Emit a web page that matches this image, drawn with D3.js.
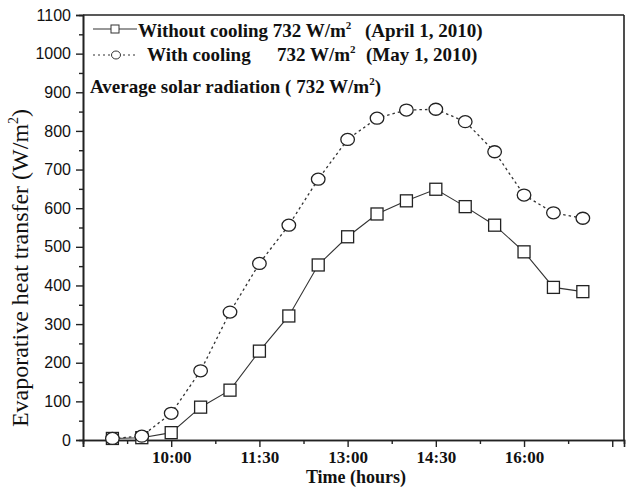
<!DOCTYPE html>
<html>
<head>
<meta charset="utf-8">
<script src="https://cdn.jsdelivr.net/npm/d3@7/dist/d3.min.js"></script>
<style>
  body { margin: 0; background: #fff; }
  svg { display: block; }
</style>
</head>
<body>
<svg id="chart" width="627" height="493"></svg>
<script>
// time in hours (9:00 .. 17:00, every 30 min)
var hours = [9, 9.5, 10, 10.5, 11, 11.5, 12, 12.5, 13, 13.5, 14, 14.5, 15, 15.5, 16, 16.5, 17]
var withoutCooling = [4, 6, 19, 85, 129, 230, 321, 453, 526, 585, 619, 649, 604, 556, 487, 395, 384]
var withCooling = [4, 10, 69, 179, 331, 457, 556, 675, 778, 833, 854, 856, 824, 746, 634, 588, 574]
var xMajor = [8.5, 10, 11.5, 13, 14.5, 16, 17.5]
var xLabeled = [10, 11.5, 13, 14.5, 16]
var yMajor = [0, 100, 200, 300, 400, 500, 600, 700, 800, 900, 1000, 1100]

var svg = d3.select("#chart")
var mLeft = 83, mRight = 624, mTop = 15, mBottom = 440
var serif = "'Liberation Serif', 'Times New Roman', serif"
var sans = "'Liberation Sans', Arial, sans-serif"

var x = d3.scaleLinear().domain([8.5, 17.7]).range([mLeft, mRight])
var y = d3.scaleLinear().domain([0, 1100]).range([mBottom, mTop])

function fmtTime(h) {
  if (xLabeled.indexOf(h) < 0) return ""
  var hh = Math.floor(h), mm = Math.round((h - hh) * 60)
  return hh + ":" + (mm < 10 ? "0" + mm : mm)
}

var xMinor = xMajor.slice(0, -1).map(function(d){ return d + 0.75 })
var yMinor = yMajor.slice(0, -1).map(function(d){ return d + 50 })

// minor ticks
svg.append("g")
  .attr("transform", "translate(0," + mBottom + ")")
  .call(d3.axisBottom(x).tickValues(xMinor).tickSize(4).tickFormat(""))
svg.append("g")
  .attr("transform", "translate(" + mLeft + ",0)")
  .call(d3.axisLeft(y).tickValues(yMinor).tickSize(4).tickFormat(""))

// major axes
var gx = svg.append("g")
  .attr("transform", "translate(0," + mBottom + ")")
  .call(d3.axisBottom(x).tickValues(xMajor).tickSize(7).tickPadding(4).tickFormat(fmtTime))
gx.selectAll("text")
  .style("font-family", serif).style("font-size", "17px").style("font-weight", "bold").attr("fill", "#111")

var gy = svg.append("g")
  .attr("transform", "translate(" + mLeft + ",0)")
  .call(d3.axisLeft(y).tickValues(yMajor).tickSize(7).tickPadding(5).tickFormat(d3.format("d")))
gy.selectAll("text")
  .style("font-family", sans).style("font-size", "16px").attr("fill", "#111")

svg.selectAll(".domain").attr("stroke", "#222").attr("stroke-width", 1.6)
svg.selectAll(".tick line").attr("stroke", "#222").attr("stroke-width", 1.4)

// frame top and right
svg.append("line").attr("x1", mLeft).attr("x2", mRight).attr("y1", mTop).attr("y2", mTop)
  .attr("stroke", "#222").attr("stroke-width", 1.6)
svg.append("line").attr("x1", mRight).attr("x2", mRight).attr("y1", mTop).attr("y2", mBottom)
  .attr("stroke", "#222").attr("stroke-width", 1.6)

// series lines
var line = d3.line().x(function(d){ return x(d[0]) }).y(function(d){ return y(d[1]) })

svg.append("path")
  .datum(hours.map(function(h, i){ return [h, withoutCooling[i]] }))
  .attr("d", line).attr("fill", "none").attr("stroke", "#333").attr("stroke-width", 1.1)

svg.append("path")
  .datum(hours.map(function(h, i){ return [h, withCooling[i]] }))
  .attr("d", line).attr("fill", "none").attr("stroke", "#333").attr("stroke-width", 1.3)
  .attr("stroke-dasharray", "2.5,3")

// markers
svg.selectAll("rect.sq")
  .data(hours.map(function(h, i){ return [h, withoutCooling[i]] }))
  .enter().append("rect")
  .attr("class", "sq")
  .attr("x", function(d){ return x(d[0]) - 6 })
  .attr("y", function(d){ return y(d[1]) - 6 })
  .attr("width", 12).attr("height", 12)
  .attr("fill", "#fff").attr("stroke", "#222").attr("stroke-width", 1.3)

svg.selectAll("ellipse.ci")
  .data(hours.map(function(h, i){ return [h, withCooling[i]] }))
  .enter().append("ellipse")
  .attr("class", "ci")
  .attr("cx", function(d){ return x(d[0]) })
  .attr("cy", function(d){ return y(d[1]) })
  .attr("rx", 6.8).attr("ry", 6)
  .attr("fill", "#fff").attr("stroke", "#222").attr("stroke-width", 1.3)

// legend
var lg = svg.append("g").style("font-family", serif).style("font-size", "19px")
  .style("font-weight", "bold").attr("fill", "#111")

lg.append("line").attr("x1", 93).attr("x2", 137).attr("y1", 29).attr("y2", 29)
  .attr("stroke", "#333").attr("stroke-width", 1.1)
lg.append("rect").attr("x", 111).attr("y", 25).attr("width", 8).attr("height", 8)
  .attr("fill", "#fff").attr("stroke", "#333").attr("stroke-width", 1)
lg.append("line").attr("x1", 93).attr("x2", 137).attr("y1", 55).attr("y2", 55)
  .attr("stroke", "#333").attr("stroke-width", 1.2).attr("stroke-dasharray", "2,3")
lg.append("ellipse").attr("cx", 116).attr("cy", 55).attr("rx", 4.5).attr("ry", 4)
  .attr("fill", "#fff").attr("stroke", "#333").attr("stroke-width", 1)

function sup(t, base, size) {
  var s = size || 11
  t.append("tspan").attr("dy", -s * 0.73).style("font-size", s + "px").text("2")
  t.append("tspan").attr("dy", s * 0.73).text(base || "")
}

var t1 = lg.append("text").attr("x", 138).attr("y", 37)
t1.append("tspan").text("Without cooling 732 W/m")
sup(t1)
lg.append("text").attr("x", 365).attr("y", 37).text("(April 1, 2010)")

lg.append("text").attr("x", 147).attr("y", 61).text("With cooling")
var t2 = lg.append("text").attr("x", 277).attr("y", 61)
t2.append("tspan").text("732 W/m")
sup(t2)
lg.append("text").attr("x", 366).attr("y", 61).text("(May 1, 2010)")

var t3 = lg.append("text").attr("x", 90).attr("y", 93)
t3.append("tspan").text("Average solar radiation ( 732 W/m")
sup(t3, ")")

// axis titles
svg.append("text")
  .attr("x", 356).attr("y", 483)
  .attr("text-anchor", "middle")
  .style("font-family", serif).style("font-size", "18px").style("font-weight", "bold")
  .attr("fill", "#111")
  .text("Time (hours)")

var yt = svg.append("text")
  .attr("transform", "translate(28," + 268 + ") rotate(-90)")
  .attr("text-anchor", "middle")
  .style("font-family", serif).style("font-size", "24px")
  .attr("fill", "#111")
yt.append("tspan").text("Evaporative heat transfer  (W/m")
sup(yt, ")", 14)
</script>
</body>
</html>
